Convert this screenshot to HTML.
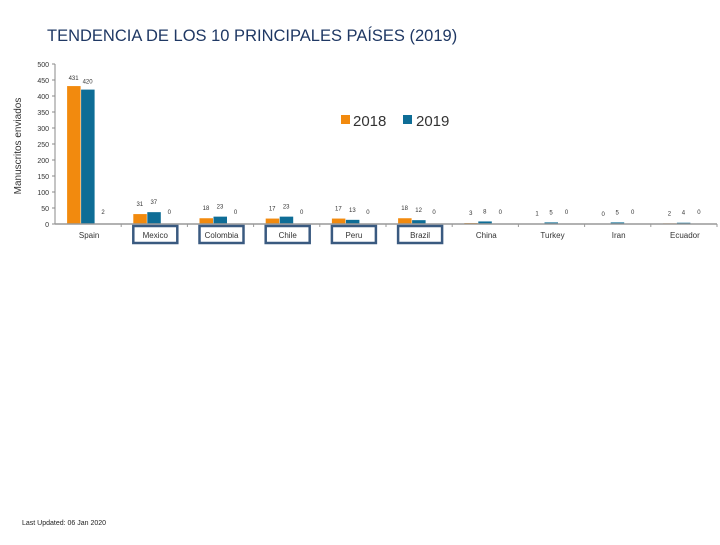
<!DOCTYPE html>
<html><head><meta charset="utf-8"><style>
body{margin:0;background:#fff;}
svg text{font-family:"Liberation Sans",sans-serif;}
</style></head><body>
<svg width="720" height="540" xmlns="http://www.w3.org/2000/svg">
<text x="47" y="41" font-size="16.5" fill="#1f3864">TENDENCIA DE LOS 10 PRINCIPALES PAÍSES (2019)</text>
<text transform="translate(21,146) rotate(-90)" text-anchor="middle" font-size="10" fill="#333">Manuscritos enviados</text>
<g id="yaxis"></g>
<g id="bars"></g>
<g id="xaxis"></g>
<rect x="341" y="115" width="9" height="9" fill="#f28a0e"/>
<text x="353" y="126" font-size="15" fill="#333">2018</text>
<rect x="403" y="115" width="9" height="9" fill="#0e6d96"/>
<text x="416" y="126" font-size="15" fill="#333">2019</text>
<text x="22" y="525" font-size="7" fill="#222">Last Updated: 06 Jan 2020</text>
</svg>
<script>
const categories=["Spain","Mexico","Colombia","Chile","Peru","Brazil","China","Turkey","Iran","Ecuador"];
const values2018=[431,31,18,17,17,18,3,1,0,2];
const values2019=[420,37,23,23,13,12,8,5,5,4];
const values2020=[2,0,0,0,0,0,0,0,0,0];
const yTicks=[0,50,100,150,200,250,300,350,400,450,500];
const boxed=["Mexico","Colombia","Chile","Peru","Brazil"];
const NS="http://www.w3.org/2000/svg";
const x0=55,x1=717,y0=224,y1=64,yMax=500;
const bw=(x1-x0)/categories.length;
const yS=v=>y0-(v/yMax)*(y0-y1);
const cx=i=>x0+bw*(i+0.5);
function mk(tag,attrs,parent,text){const e=document.createElementNS(NS,tag);for(const k in attrs)e.setAttribute(k,attrs[k]);if(text!==undefined)e.textContent=text;parent.appendChild(e);return e;}
const ya=document.getElementById('yaxis'),ba=document.getElementById('bars'),xa=document.getElementById('xaxis');
mk('line',{x1:x0,y1:y1,x2:x0,y2:y0,stroke:'#888','stroke-width':1},ya);
yTicks.forEach(t=>{
 const tk=mk('line',{x1:x0-3,y1:yS(t),x2:x0,y2:yS(t),stroke:'#888'},ya);
 
 
 const l=mk('text',{x:x0-6,y:yS(t)+3,'text-anchor':'end','font-size':7,fill:'#333'},ya,t);
 
 
});
mk('line',{x1:x0,y1:y0,x2:x1,y2:y0,stroke:'#999','stroke-width':1.5},xa);
categories.forEach((c,i)=>{
 const c0=cx(i);
 const tk=mk('line',{x1:x0+bw*(i+1),y1:y0,x2:x0+bw*(i+1),y2:y0+3,stroke:'#999'},xa);
 
 
 [[values2018[i],-21,'#f28a0e','2018'],[values2019[i],-7,'#0e6d96','2019']].forEach(([v,off,col,s])=>{
  const r=mk('rect',{x:c0+off,y:yS(v),width:13.5,height:y0-yS(v),fill:col},ba);
  
  
  const t=mk('text',{x:c0+off+6.5,y:yS(v)-(v>100?6:8),'text-anchor':'middle','font-size':6,fill:'#333'},ba,v);
  
  
 });
 const t3=mk('text',{x:c0+15,y:y0-10,'text-anchor':'middle','font-size':6,fill:'#333'},ba,values2020[i]);
 
 
 if(boxed.includes(c)){
  const b=mk('rect',{x:c0-21,y:y0+2,width:44,height:17,fill:'none',stroke:'#3a5a80','stroke-width':2.5},xa);
  
  
 }
 const l=mk('text',{x:c0+1,y:y0+14,'text-anchor':'middle','font-size':8,fill:'#333'},xa,c);
 
 
});
</script>
</body></html>
